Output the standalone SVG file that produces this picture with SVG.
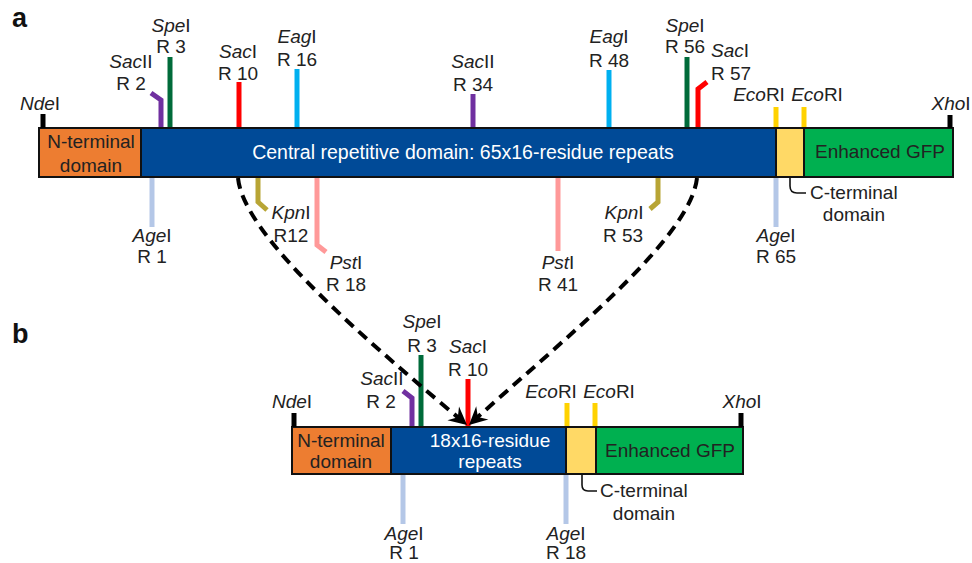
<svg xmlns="http://www.w3.org/2000/svg" width="972" height="563" viewBox="0 0 972 563">
<defs>
<style>
text{font-family:"Liberation Sans",Arial,sans-serif;font-size:19px;fill:#222;}
.c{text-anchor:middle;}
.i{font-style:italic;}
.panel{font-weight:bold;font-size:27px;fill:#111;}
.w{fill:#fff;}
.big{font-size:19.5px;}
.box{stroke:#111;stroke-width:2;}
.site{fill:none;stroke-width:5;stroke-linejoin:miter;}
.tick{stroke:#000;stroke-width:5;}
.nd{fill:#ED7D31;}
.cr{fill:#004A97;}
.ct{fill:#FFD966;}
.gfp{fill:#00B050;}
.sac2{stroke:#7030A0;}
.spe{stroke:#006B3A;}
.sac1{stroke:#FF0000;}
.eag{stroke:#00B0F0;}
.age{stroke:#B4C7E7;}
.kpn{stroke:#B8A535;}
.pst{stroke:#FF9999;}
.eco{stroke:#FFD200;}
.call{fill:none;stroke:#111;stroke-width:1.6;}
.dash{fill:none;stroke:#000;stroke-width:4;stroke-dasharray:11 7;}
</style>
<marker id="ah" markerUnits="userSpaceOnUse" markerWidth="24" markerHeight="24" refX="0" refY="0" viewBox="-20 -12 24 24" orient="auto">
<path d="M0,0 L-18,-9 L-12,0 L-18,9 Z" fill="#000"/>
</marker>
</defs>
<rect width="972" height="563" fill="#fff"/>

<text class="panel" x="12" y="27">a</text>
<text class="panel" x="12" y="343">b</text>

<!-- Panel a construct -->
<g id="a-nterm">
<rect class="box nd" x="39" y="128" width="102" height="49"/>
<text class="c" x="91" y="148">N-terminal</text>
<text class="c" x="91" y="172">domain</text>
</g>
<g id="a-central">
<rect class="box cr" x="141" y="128" width="635" height="49"/>
<text class="c w big" x="463" y="159">Central repetitive domain: 65x16-residue repeats</text>
</g>
<g id="a-cterm">
<rect class="box ct" x="776" y="128" width="28" height="49"/>
<path class="call" d="M790,177 L790,186 Q790,193 797,193 L806,193"/>
<text x="810" y="199">C-terminal</text>
<text class="c" x="854" y="221">domain</text>
</g>
<g id="a-gfp">
<rect class="box gfp" x="804" y="128" width="149" height="49"/>
<text class="c" x="880" y="158">Enhanced GFP</text>
</g>

<g id="a-ndei">
<line class="tick" x1="43" y1="114" x2="43" y2="128"/>
<text class="c" x="40" y="110"><tspan class="i">Nde</tspan>I</text>
</g>
<g id="a-xhoi">
<line class="tick" x1="950" y1="115" x2="950" y2="128"/>
<text class="c" x="951" y="110"><tspan class="i">Xho</tspan>I</text>
</g>
<g id="a-sacii-r2">
<path class="site sac2" d="M151,93 L161,100 L161,127"/>
<text class="c" x="131" y="68"><tspan class="i">Sac</tspan>II</text>
<text class="c" x="131" y="90">R 2</text>
</g>
<g id="a-spei-r3">
<line class="site spe" x1="170" y1="57" x2="170" y2="127"/>
<text class="c" x="171" y="32"><tspan class="i">Spe</tspan>I</text>
<text class="c" x="171" y="53">R 3</text>
</g>
<g id="a-saci-r10">
<line class="site sac1" x1="239" y1="82" x2="239" y2="127"/>
<text class="c" x="238" y="58"><tspan class="i">Sac</tspan>I</text>
<text class="c" x="238" y="80">R 10</text>
</g>
<g id="a-eagi-r16">
<line class="site eag" x1="297" y1="69" x2="297" y2="127"/>
<text class="c" x="297" y="43"><tspan class="i">Eag</tspan>I</text>
<text class="c" x="297" y="66">R 16</text>
</g>
<g id="a-sacii-r34">
<line class="site sac2" x1="473" y1="94" x2="473" y2="127"/>
<text class="c" x="473" y="68"><tspan class="i">Sac</tspan>II</text>
<text class="c" x="473" y="91">R 34</text>
</g>
<g id="a-eagi-r48">
<line class="site eag" x1="609" y1="70" x2="609" y2="127"/>
<text class="c" x="609" y="43"><tspan class="i">Eag</tspan>I</text>
<text class="c" x="609" y="67">R 48</text>
</g>
<g id="a-spei-r56">
<line class="site spe" x1="687" y1="57" x2="687" y2="127"/>
<text class="c" x="685" y="32"><tspan class="i">Spe</tspan>I</text>
<text class="c" x="685" y="53">R 56</text>
</g>
<g id="a-saci-r57">
<path class="site sac1" d="M707,82 L698,89 L698,127"/>
<text x="711" y="57"><tspan class="i">Sac</tspan>I</text>
<text x="711" y="80">R 57</text>
</g>
<g id="a-ecori-1">
<line class="site eco" x1="776" y1="107" x2="776" y2="127"/>
<text class="c" x="759" y="101"><tspan class="i">Eco</tspan>RI</text>
</g>
<g id="a-ecori-2">
<line class="site eco" x1="804" y1="107" x2="804" y2="127"/>
<text class="c" x="817" y="101"><tspan class="i">Eco</tspan>RI</text>
</g>
<g id="a-agei-r1">
<line class="site age" x1="152" y1="178" x2="152" y2="227"/>
<text class="c" x="152" y="242"><tspan class="i">Age</tspan>I</text>
<text class="c" x="152" y="263">R 1</text>
</g>
<g id="a-kpni-r12">
<path class="site kpn" d="M258,178 L258,202 L267,210"/>
<text class="c" x="291" y="219"><tspan class="i">Kpn</tspan>I</text>
<text class="c" x="291" y="242">R12</text>
</g>
<g id="a-psti-r18">
<path class="site pst" d="M317,178 L317,245 L326,252"/>
<text class="c" x="346" y="269"><tspan class="i">Pst</tspan>I</text>
<text class="c" x="346" y="291">R 18</text>
</g>
<g id="a-psti-r41">
<line class="site pst" x1="558" y1="178" x2="558" y2="251"/>
<text class="c" x="558" y="269"><tspan class="i">Pst</tspan>I</text>
<text class="c" x="558" y="291">R 41</text>
</g>
<g id="a-kpni-r53">
<path class="site kpn" d="M658,178 L658,202 L650,209"/>
<text class="c" x="624" y="219"><tspan class="i">Kpn</tspan>I</text>
<text class="c" x="623" y="242">R 53</text>
</g>
<g id="a-agei-r65">
<line class="site age" x1="776" y1="178" x2="776" y2="227"/>
<text class="c" x="776" y="242"><tspan class="i">Age</tspan>I</text>
<text class="c" x="776" y="263">R 65</text>
</g>

<!-- Panel b construct -->
<g id="b-nterm">
<rect class="box nd" x="292" y="427" width="99" height="47"/>
<text class="c" x="341" y="447">N-terminal</text>
<text class="c" x="341" y="468">domain</text>
</g>
<g id="b-central">
<rect class="box cr" x="391" y="427" width="175" height="47"/>
<text class="c w" x="490" y="447">18x16-residue</text>
<text class="c w" x="490" y="468">repeats</text>
</g>
<g id="b-cterm">
<rect class="box ct" x="566" y="427" width="30" height="47"/>
<path class="call" d="M582,474 L582,485 Q582,491 588,491 L597,491"/>
<text x="600" y="497">C-terminal</text>
<text class="c" x="644" y="520">domain</text>
</g>
<g id="b-gfp">
<rect class="box gfp" x="596" y="427" width="147" height="47"/>
<text class="c" x="670" y="457">Enhanced GFP</text>
</g>
<g id="b-ndei">
<line class="tick" x1="294" y1="413" x2="294" y2="427"/>
<text class="c" x="292" y="408"><tspan class="i">Nde</tspan>I</text>
</g>
<g id="b-xhoi">
<line class="tick" x1="741" y1="413" x2="741" y2="427"/>
<text class="c" x="742" y="408"><tspan class="i">Xho</tspan>I</text>
</g>
<g id="b-sacii-r2">
<path class="site sac2" d="M403,391 L412,398 L412,426"/>
<text class="c" x="382" y="385"><tspan class="i">Sac</tspan>II</text>
<text class="c" x="381" y="408">R 2</text>
</g>
<g id="b-spei-r3">
<line class="site spe" x1="421" y1="355" x2="421" y2="426"/>
<text class="c" x="422" y="328"><tspan class="i">Spe</tspan>I</text>
<text class="c" x="422" y="352">R 3</text>
</g>
<g id="b-saci-r10">
<line class="site sac1" x1="468" y1="379" x2="468" y2="426"/>
<text class="c" x="468" y="353"><tspan class="i">Sac</tspan>I</text>
<text class="c" x="468" y="376">R 10</text>
</g>
<g id="b-ecori-1">
<line class="site eco" x1="567" y1="403" x2="567" y2="426"/>
<text class="c" x="551" y="398"><tspan class="i">Eco</tspan>RI</text>
</g>
<g id="b-ecori-2">
<line class="site eco" x1="595" y1="403" x2="595" y2="426"/>
<text class="c" x="609" y="398"><tspan class="i">Eco</tspan>RI</text>
</g>
<g id="b-agei-r1">
<line class="site age" x1="403" y1="475" x2="403" y2="524"/>
<text class="c" x="404" y="540"><tspan class="i">Age</tspan>I</text>
<text class="c" x="404" y="559">R 1</text>
</g>
<g id="b-agei-r18">
<line class="site age" x1="566" y1="475" x2="566" y2="524"/>
<text class="c" x="566" y="540"><tspan class="i">Age</tspan>I</text>
<text class="c" x="566" y="559">R 18</text>
</g>

<g id="connectors">
<path class="dash" d="M238,178 C244,238 372,345 467,425" marker-end="url(#ah)"/>
<path class="dash" d="M697,178 C690,240 562,340 469,425" marker-end="url(#ah)"/>
</g>
</svg>
